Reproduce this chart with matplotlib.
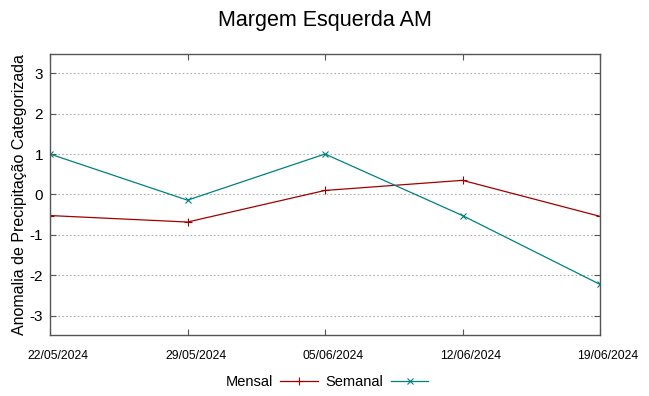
import matplotlib
matplotlib.use("Agg")
import matplotlib.pyplot as plt
import matplotlib.transforms as mtransforms

plt.rcParams['font.family'] = ['Liberation Sans', 'DejaVu Sans']

dates = ["22/05/2024", "29/05/2024", "05/06/2024", "12/06/2024", "19/06/2024"]
mensal = [-0.52, -0.68, 0.10, 0.35, -0.54]
semanal = [1.0, -0.14, 1.0, -0.52, -2.22]
yticks = [-3, -2, -1, 0, 1, 2, 3]

fig = plt.figure(figsize=(6.49, 3.96), dpi=100)
ax = fig.add_axes([50/649, 1-335/396, 550/649, 281/396])
x = list(range(len(dates)))
ax.plot(x, mensal, color='#a00000', lw=0.9, marker='+', ms=6, mew=0.8, label='Mensal')
ax.plot(x, semanal, color='#008080', lw=0.9, marker='x', ms=5, mew=0.8, label='Semanal')
ax.set_xlim(0, len(dates)-1)
ax.set_ylim(-3.47, 3.47)
ax.set_xticks(x)
ax.set_xticklabels([])
offset = mtransforms.ScaledTranslation(8/100, 0, fig.dpi_scale_trans)
tr = ax.get_xaxis_transform() + offset
for xi, d in zip(x, dates):
    ax.text(xi, -0.075, d, transform=tr, ha='center', va='center', fontsize=8.8, clip_on=False)
ax.set_yticks(yticks)
ax.set_yticklabels([str(v) for v in yticks], fontsize=11)
ax.tick_params(direction='in', top=True, right=True, length=4, color='#555555', width=0.8)
ax.tick_params(axis='y', pad=5)
ax.yaxis.grid(True, linestyle=(0, (1.5, 2)), color='#b0b0b0', lw=0.8)
for s in ax.spines.values():
    s.set_color('#555555')
    s.set_linewidth(1.0)
ax.set_ylabel('Anomalia de Precipitação Categorizada', fontsize=11.5, labelpad=2)
fig.suptitle('Margem Esquerda AM', fontsize=15.5, y=0.975)
fig.legend(loc='center', bbox_to_anchor=(327/649, 1-382/396), ncol=2, frameon=False,
           markerfirst=False, fontsize=10.5, handlelength=2.6, columnspacing=0.5, handletextpad=0.5)
fig.savefig('out.png', dpi=100)
